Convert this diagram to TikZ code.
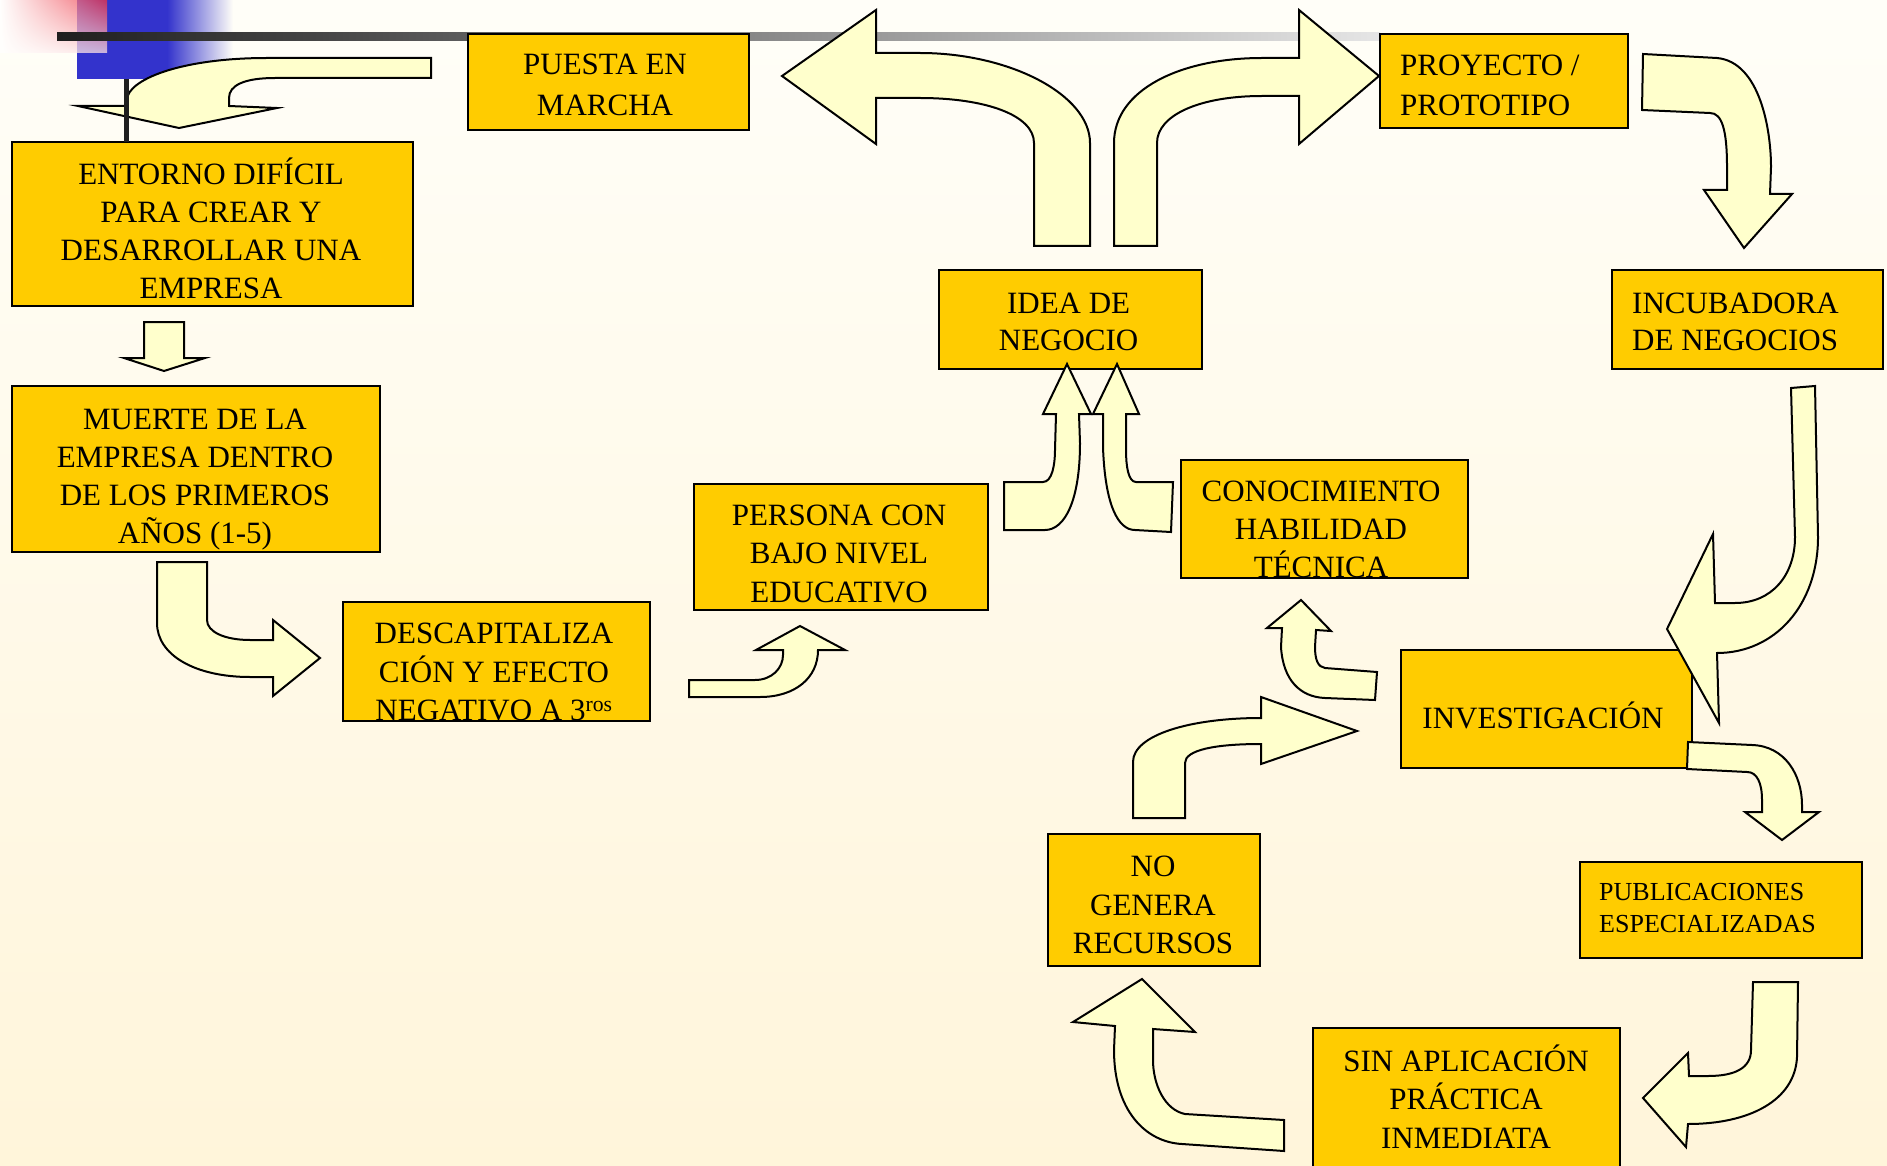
\documentclass[tikz,border=0pt]{standalone}
\usepackage{fontspec}
\setmainfont{Liberation Serif}
\usetikzlibrary{shadings}
\definecolor{bgtop}{HTML}{FFFEF8}
\definecolor{bgbot}{HTML}{FFF5DA}
\definecolor{boxfill}{HTML}{FFCC00}
\definecolor{arrfill}{HTML}{FFFFCC}
\definecolor{tblue}{HTML}{3333CC}
\definecolor{tred}{HTML}{EE3344}
\tikzset{
  box/.style={draw=black, line width=2pt, fill=boxfill, inner sep=0pt},
  txt/.style={inner sep=0pt, align=center, font=\fontsize{31}{38}\selectfont},
  fat/.style={draw=black, line width=2pt, fill=arrfill, line join=miter}
}
\begin{document}
\begin{tikzpicture}[x=1pt,y=-1pt]
\useasboundingbox (0,0) rectangle (1887,1166);
\clip (0,0) rectangle (1887,1166);
\shade[top color=bgtop, bottom color=bgbot] (0,0) rectangle (1887,1166);
% template decoration
\fill[tblue] (77,0) rectangle (167,79);
\shade[left color=tblue, right color=bgtop] (167,0) rectangle (233,79);
\shade[upper left=white, upper right=tred, lower left=white, lower right=tred!15, fill opacity=0.75] (0,0) rectangle (107,53);
\shade[left color=black!88, right color=black!10] (57,33) rectangle (1380,41);
% boxes
\node[box, minimum width=281pt, minimum height=96pt] (puesta) at (608.5,82) {};
\node[box, minimum width=401pt, minimum height=164pt] (entorno) at (212.5,224) {};
\node[box, minimum width=368pt, minimum height=166pt] (muerte) at (196,469) {};
\node[box, minimum width=307pt, minimum height=119pt] (descap) at (496.5,661.5) {};
\node[box, minimum width=294pt, minimum height=126pt] (persona) at (841,547) {};
\node[box, minimum width=263pt, minimum height=99pt] (idea) at (1070.5,319.5) {};
\node[box, minimum width=248pt, minimum height=94pt] (proyecto) at (1504,81) {};
\node[box, minimum width=271pt, minimum height=99pt] (incub) at (1747.5,319.5) {};
\node[box, minimum width=287pt, minimum height=118pt] (conoc) at (1324.5,519) {};
\node[box, minimum width=291pt, minimum height=118pt] (invest) at (1546.5,709) {};
\node[box, minimum width=212pt, minimum height=132pt] (nogen) at (1154,900) {};
\node[box, minimum width=282pt, minimum height=96pt] (public) at (1721,910) {};
\node[box, minimum width=307pt, minimum height=150pt] (sinap) at (1466.5,1103) {};
% texts
\node[txt, font=\fontsize{31}{41}\selectfont] (puesta-t) at (605,85) {PUESTA EN\\MARCHA};
\node[txt] (entorno-t) at (211,228.5) {ENTORNO DIFÍCIL\\PARA CREAR Y\\DESARROLLAR UNA\\EMPRESA};
\node[txt] (muerte-t) at (195,479.5) {MUERTE DE LA\\EMPRESA DENTRO\\DE LOS PRIMEROS\\AÑOS (1-5)};
\node[txt, font=\fontsize{31}{38.5}\selectfont] (descap-t) at (494,672) {DESCAPITALIZA\\CIÓN Y EFECTO\\NEGATIVO A 3\textsuperscript{ros}};
\node[txt, font=\fontsize{31}{38.5}\selectfont] (persona-t) at (839,553.5) {PERSONA CON\\BAJO NIVEL\\EDUCATIVO};
\node[txt, font=\fontsize{31}{37}\selectfont] (idea-t) at (1068.6,322) {IDEA DE\\NEGOCIO};
\node[txt, align=left, anchor=west, font=\fontsize{31}{40}\selectfont] (proy-t) at (1400,85) {PROYECTO /\\PROTOTIPO};
\node[txt, align=left, anchor=west, font=\fontsize{31}{37}\selectfont] (incub-t) at (1632,322) {INCUBADORA\\DE NEGOCIOS};
\node[txt] (conoc-t) at (1321,529.5) {CONOCIMIENTO\\HABILIDAD\\TÉCNICA};
\node[txt] (invest-t) at (1543,715.5) {INVESTIGACIÓN};
\node[txt, font=\fontsize{31}{38.5}\selectfont] (nogen-t) at (1153,905) {NO\\GENERA\\RECURSOS};
\node[txt, align=left, anchor=west, font=\fontsize{26}{32.5}\selectfont] (public-t) at (1599,908) {PUBLICACIONES\\ESPECIALIZADAS};
\node[txt, font=\fontsize{31}{38.5}\selectfont] (sinap-t) at (1466,1096.5) {SIN APLICACIÓN\\PRÁCTICA\\INMEDIATA};
% block arrows
% A: top-left into ENTORNO
\draw[fat] (431,58) -- (267,58) .. controls (180,58) and (127,80) .. (127,100) -- (127,106) -- (78,106) -- (179,128) -- (277,108) -- (229,106) -- (229,98) .. controls (229,85) and (245,78) .. (275,78) -- (431,78) -- cycle;
\fill[black!88] (124,79) rectangle (129,142);
% B: ENTORNO -> MUERTE
\draw[fat] (144,322) -- (184,322) -- (184,358) -- (205,358) -- (164,371) -- (124,358) -- (144,358) -- cycle;
% C: MUERTE -> DESCAP
\draw[fat] (157,562) -- (207,562) -- (207,620) .. controls (207,632) and (225,640) .. (250,640) -- (273,640) -- (273,620) -- (320,658) -- (273,696) -- (273,677) -- (250,677) .. controls (195,677) and (157,655) .. (157,623) -- cycle;
% D: DESCAP -> PERSONA
\draw[fat] (689,680) -- (755,680) .. controls (772,680) and (783,668) .. (783,655) -- (783,650) -- (756,650) -- (800,626) -- (845,650) -- (818,650) .. controls (818,678) and (795,697) .. (760,697) -- (689,697) -- cycle;
% E: IDEA -> PUESTA
\draw[fat] (876,53) -- (920,53) .. controls (1010,53) and (1090,95) .. (1090,143) -- (1090,246) -- (1034,246) -- (1034,143) .. controls (1034,115) and (985,98) .. (920,98) -- (876,98) -- (876,144) -- (782,76) -- (876,10) -- cycle;
% F: IDEA -> PROYECTO
\draw[fat] (1114,246) -- (1114,143) .. controls (1114,90) and (1180,58) .. (1262,58) -- (1299,58) -- (1299,10) -- (1379,76) -- (1299,144) -- (1299,96) -- (1262,96) .. controls (1200,96) and (1157,115) .. (1157,143) -- (1157,246) -- cycle;
% G: PROYECTO -> INCUBADORA
\draw[fat] (1643,54) -- (1717,58) .. controls (1760,62) and (1771,130) .. (1771,167) -- (1770,194) -- (1792,194) -- (1744,248) -- (1704,190) -- (1727,190) -- (1727,167) .. controls (1727,130) and (1722,113) .. (1710,113) -- (1642,110) -- cycle;
% H: INCUBADORA -> INVESTIGACION
\draw[fat] (1791,388) -- (1815,386) -- (1818,537) .. controls (1818,605) and (1775,653) .. (1717,653) -- (1719,723) -- (1667,629) -- (1713,534) -- (1715,603) -- (1735,603) .. controls (1772,603) and (1795,575) .. (1795,537) -- cycle;
% I: INVESTIGACION -> PUBLICACIONES
\draw[fat] (1688,742) -- (1752,745) .. controls (1785,746) and (1802,775) .. (1802,805) -- (1802,812) -- (1819,812) -- (1782,840) -- (1745,812) -- (1762,812) -- (1762,800) .. controls (1762,783) and (1757,772) .. (1747,772) -- (1687,769) -- cycle;
% J: PUBLICACIONES -> SIN APLICACION
\draw[fat] (1753,982) -- (1798,982) -- (1797,1057) .. controls (1795,1100) and (1750,1124) .. (1688,1124) -- (1686,1147) -- (1643,1098) -- (1688,1053) -- (1689,1076) -- (1708,1076) .. controls (1735,1076) and (1751,1068) .. (1751,1050) -- cycle;
% K: SIN APLICACION -> NO GENERA
\draw[fat] (1284,1120) -- (1185,1114) .. controls (1165,1110) and (1153,1085) .. (1153,1060) -- (1153,1029) -- (1195,1032) -- (1142,979) -- (1073,1022) -- (1115,1026) -- (1114,1050) .. controls (1114,1110) and (1145,1142) .. (1182,1144) -- (1284,1151) -- cycle;
% L: NO GENERA -> INVESTIGACION
\draw[fat] (1133,818) -- (1133,762) .. controls (1133,735) and (1190,718) .. (1261,718) -- (1261,697) -- (1357,731) -- (1261,764) -- (1261,744) .. controls (1215,744) and (1185,750) .. (1185,763) -- (1185,818) -- cycle;
% M: INVESTIGACION -> CONOCIMIENTO
\draw[fat] (1377,672) -- (1325,668) .. controls (1318,667) and (1315,660) .. (1315,647) -- (1316,630) -- (1331,631) -- (1301,600) -- (1267,628) -- (1282,628) -- (1281,647) .. controls (1283,680) and (1300,697) .. (1325,698) -- (1375,700) -- cycle;
% N: PERSONA -> IDEA
\draw[fat] (1004,482) -- (1043,482) .. controls (1052,482) and (1055,465) .. (1055,450) -- (1056,414) -- (1043,414) -- (1067,364) -- (1091,414) -- (1079,414) -- (1080,443) .. controls (1080,500) and (1065,530) .. (1045,530) -- (1004,530) -- cycle;
% O: CONOCIMIENTO -> IDEA
\draw[fat] (1173,482) -- (1136,482) .. controls (1128,482) and (1126,465) .. (1126,450) -- (1126,414) -- (1139,414) -- (1117,364) -- (1093,414) -- (1103,414) -- (1103,447) .. controls (1105,505) and (1118,530) .. (1135,530) -- (1171,532) -- cycle;
\end{tikzpicture}
\end{document}
